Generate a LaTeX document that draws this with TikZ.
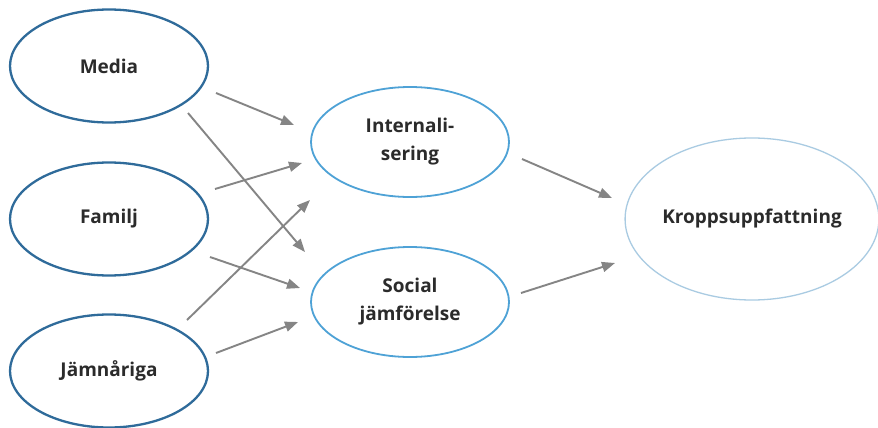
\documentclass[tikz,border=0pt]{standalone}
\usepackage{fontspec}
\setmainfont{Open Sans}
\usetikzlibrary{shapes.geometric,arrows.meta}
\definecolor{outerblue}{HTML}{2F6B9A}
\definecolor{midblue}{HTML}{4EA2D6}
\definecolor{paleblue}{HTML}{A9CBE2}
\definecolor{arrowgray}{HTML}{858585}
\definecolor{labelgray}{HTML}{2B2B2B}
\begin{document}
\begin{tikzpicture}[x=1pt,y=-1pt,
  factor/.style={ellipse,draw=outerblue,line width=2.3pt,minimum width=198pt,minimum height=113pt,
    inner sep=0pt,align=center,font=\bfseries\fontsize{19}{28}\selectfont,text=labelgray},
  mediator/.style={factor,draw=midblue,line width=1.8pt,minimum width=198pt,minimum height=110pt},
  outcome/.style={factor,draw=paleblue,line width=1.3pt,minimum width=252pt,minimum height=162pt},
  link/.style={draw=arrowgray,line width=1.9pt,-{Triangle[length=13pt,width=10pt]}}]
\useasboundingbox (0,0) rectangle (878,428);
\fill[white] (0,0) rectangle (878,428);

\node[factor] (media) at (109,66) {Media};
\node[factor] (familj) at (109,219) {Familj};
\node[factor] (jamn) at (109,371) {Jämnåriga};
\node[mediator] (int) at (410,142) {Internali-\\sering};
\node[mediator] (soc) at (410,302) {Social\\jämförelse};
\node[outcome] (kropp) at (752,219) {Kroppsuppfattning};

% arrow end points, placed relative to their ellipses
\coordinate (m1) at ([shift={(107,27)}]media.center);
\coordinate (m2) at ([shift={(79,47)}]media.center);
\coordinate (f1) at ([shift={(106,-30)}]familj.center);
\coordinate (f2) at ([shift={(101,38)}]familj.center);
\coordinate (j1) at ([shift={(78,-51)}]jamn.center);
\coordinate (j2) at ([shift={(107,-18)}]jamn.center);
\coordinate (i1) at ([shift={(-116,-17)}]int.center);
\coordinate (i2) at ([shift={(-108,21)}]int.center);
\coordinate (i3) at ([shift={(-100,58)}]int.center);
\coordinate (i4) at ([shift={(112,17)}]int.center);
\coordinate (s1) at ([shift={(-105,-50)}]soc.center);
\coordinate (s2) at ([shift={(-110,-14)}]soc.center);
\coordinate (s3) at ([shift={(-112,20)}]soc.center);
\coordinate (s4) at ([shift={(111,-9)}]soc.center);
\coordinate (k1) at ([shift={(-140,-21)}]kropp.center);
\coordinate (k2) at ([shift={(-137,44)}]kropp.center);

\draw[link] (m1) -- (i1);
\draw[link] (m2) -- (s1);
\draw[link] (f1) -- (i2);
\draw[link] (f2) -- (s2);
\draw[link] (j1) -- (i3);
\draw[link] (j2) -- (s3);
\draw[link] (i4) -- (k1);
\draw[link] (s4) -- (k2);
\end{tikzpicture}
\end{document}
